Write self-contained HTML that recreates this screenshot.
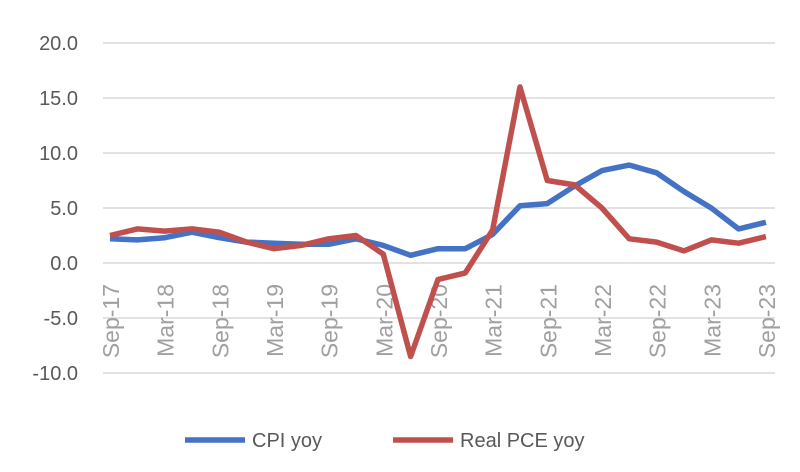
<!DOCTYPE html>
<html><head><style>body{margin:0;background:#fff}</style></head><body>
<svg width="800" height="467" xmlns="http://www.w3.org/2000/svg" font-family="Liberation Sans, sans-serif">
<g stroke="#d9d9d9" stroke-width="1.5">
<line x1="103" x2="775" y1="43" y2="43"/><line x1="103" x2="775" y1="98" y2="98"/><line x1="103" x2="775" y1="153" y2="153"/><line x1="103" x2="775" y1="208" y2="208"/><line x1="103" x2="775" y1="263" y2="263"/><line x1="103" x2="775" y1="318" y2="318"/><line x1="103" x2="775" y1="373" y2="373"/>
</g>
<g fill="#595959" font-size="20" text-anchor="end">
<text x="78" y="50">20.0</text><text x="78" y="105">15.0</text><text x="78" y="160">10.0</text><text x="78" y="215">5.0</text><text x="78" y="270">0.0</text><text x="78" y="325">-5.0</text><text x="78" y="380">-10.0</text>
</g>
<g fill="#a0a0a0" font-size="23" text-anchor="end" id="xl"></g>
<polyline id="cpi" fill="none" stroke="#4472c4" stroke-width="5.5" stroke-linejoin="round"/>
<polyline id="pce" fill="none" stroke="#c0504d" stroke-width="5.5" stroke-linejoin="round"/>
<line x1="185" x2="245" y1="440" y2="440" stroke="#4472c4" stroke-width="5.5"/>
<text x="252" y="447" font-size="20" fill="#595959">CPI yoy</text>
<line x1="393" x2="453" y1="440" y2="440" stroke="#c0504d" stroke-width="5.5"/>
<text x="460" y="447" font-size="20" fill="#595959">Real PCE yoy</text>
</svg>
<script>
var cpi=[2.2,2.1,2.3,2.8,2.3,1.9,1.8,1.7,1.7,2.2,1.6,0.7,1.3,1.3,2.6,5.2,5.4,7.0,8.4,8.9,8.2,6.5,5.0,3.1,3.7];
var pce=[2.5,3.1,2.9,3.1,2.8,1.9,1.3,1.6,2.2,2.5,0.8,-8.5,-1.5,-0.9,3.0,16.0,7.5,7.1,5.0,2.2,1.9,1.1,2.1,1.8,2.4];
function X(i){return 110+i*27.33}function Y(v){return 263-v*11}
function pts(a){return a.map(function(v,i){return X(i)+','+Y(v)}).join(' ')}
document.getElementById('cpi').setAttribute('points',pts(cpi));
document.getElementById('pce').setAttribute('points',pts(pce));
var labs=['Sep-17','Mar-18','Sep-18','Mar-19','Sep-19','Mar-20','Sep-20','Mar-21','Sep-21','Mar-22','Sep-22','Mar-23','Sep-23'];
var g=document.getElementById('xl'),s='';
labs.forEach(function(l,k){var x=X(k*2)+9;s+='<text transform="translate('+x+',284) rotate(-90)">'+l+'</text>'});
g.innerHTML=s;
</script>
</body></html>
